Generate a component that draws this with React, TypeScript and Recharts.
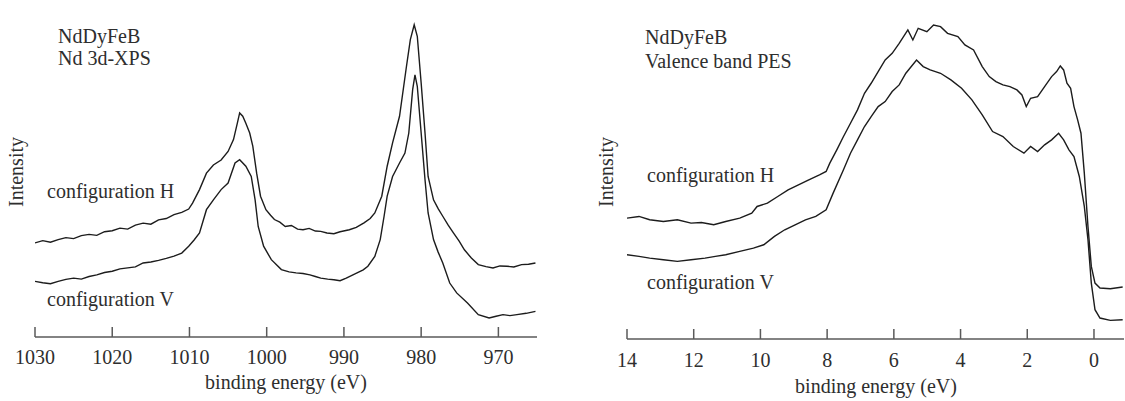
import { LineChart, Line, XAxis, YAxis } from "recharts";

// ---------------------------------------------------------------------------
// Nd 3d-XPS (left panel) – binding energy (eV) and intensity (arb. units)
// ---------------------------------------------------------------------------
const xpsEnergyH = [
  1030, 1029, 1028, 1027, 1026, 1025, 1024, 1023, 1022, 1021, 1020, 1019, 1018, 1017,
  1016, 1015, 1014, 1013, 1012, 1011, 1010.1, 1009.6, 1008.7, 1007.8, 1006.9, 1005.9,
  1005.0, 1004.3, 1003.8, 1003.5, 1003.1, 1002.7, 1002.2, 1001.8, 1001.3, 1000.8,
  1000.1, 999.5, 999.0, 998.3, 997.6, 996.8, 996.0, 995.3, 994.5, 993.7, 993.0, 992.2,
  991.3, 990.5, 989.3, 988.4, 987.4, 986.6, 986.0, 985.1, 984.4, 983.7, 982.8, 981.9,
  981.4, 980.9, 980.5, 980.0, 979.5, 979.1, 978.4, 977.8, 977.2, 976.5, 975.8, 975.1,
  974.4, 973.5, 972.6, 971.6, 970.7, 969.8, 968.9, 968.0, 967.0, 966.1, 965.2,
];
const xpsIntensityH = [
  28.6, 29.3, 28.8, 29.6, 30.2, 29.9, 30.8, 31.2, 30.9, 32.0, 32.3, 33.1, 32.8, 34.0,
  34.6, 34.3, 35.6, 36.0, 37.2, 37.9, 38.9, 40.7, 44.8, 49.8, 52.3, 53.8,
  56.4, 60.0, 65.0, 68.1, 67.1, 65.0, 62.0, 58.0, 49.8, 42.8,
  38.7, 37.0, 35.7, 34.9, 33.6, 33.9, 32.8, 32.6, 33.0, 32.2, 32.1, 31.6,
  31.4, 32.0, 32.6, 33.3, 34.7, 36.0, 37.7, 42.8, 51.9, 59.0, 67.1, 82.3,
  90.4, 94.9, 91.4, 77.2, 62.0, 48.8, 41.7, 39.0, 36.7, 34.0, 31.6, 29.2,
  26.5, 24.0, 22.0, 21.4, 21.0, 21.6, 21.5, 21.3, 22.0, 22.1, 22.5,
];

const xpsEnergyV = [
  1030, 1029, 1028, 1027, 1026, 1025, 1024, 1023, 1022, 1021, 1020, 1019, 1018, 1017,
  1016, 1015, 1014, 1013, 1012, 1011, 1010.1, 1009.4, 1008.7, 1007.8, 1006.9, 1005.9,
  1005.0, 1004.1, 1003.5, 1002.7, 1002.0, 1001.5, 1001.1, 1000.4, 999.4, 998.1, 997.1,
  996.2, 995.3, 994.4, 993.7, 993.0, 992.1, 991.3, 990.5, 989.7, 988.3, 987.5, 986.9,
  986.0, 985.3, 984.8, 984.4, 983.7, 982.8, 982.1, 981.6, 981.1, 980.8, 980.5, 980.0,
  979.5, 979.1, 978.4, 977.8, 977.2, 976.3, 975.4, 974.0, 972.6, 971.2, 970.3, 969.4,
  968.5, 967.6, 966.4, 965.2,
];
const xpsIntensityV = [
  16.9, 16.5, 16.2, 16.9, 17.5, 17.9, 17.6, 18.4, 18.9, 19.6, 20.0, 20.7, 21.0, 21.3,
  22.5, 22.8, 23.3, 23.9, 24.6, 25.5, 27.6, 29.5, 31.6, 38.7, 41.7, 44.8,
  46.8, 52.9, 53.9, 51.9, 48.8, 41.7, 33.6, 27.6, 23.5, 20.5, 19.8,
  19.5, 19.3, 18.9, 18.4, 17.9, 17.6, 17.4, 17.1, 17.9, 19.5, 20.4, 21.5,
  24.5, 29.6, 36.7, 42.8, 48.8, 52.9, 55.9, 62.0, 75.2, 79.7, 76.2, 62.0,
  47.8, 37.7, 29.6, 25.8, 22.5, 16.4, 13.4, 10.3, 6.8, 5.8, 6.3, 6.8,
  6.5, 6.8, 7.2, 7.8,
];

// ---------------------------------------------------------------------------
// Valence band PES (right panel)
// ---------------------------------------------------------------------------
const pesEnergyH = [
  14.0, 13.64, 13.32, 12.91, 12.49, 12.08, 11.77, 11.4, 11.04, 10.62, 10.26, 10.1, 9.79,
  9.48, 9.17, 8.86, 8.55, 8.23, 8.03, 7.92, 7.71, 7.51, 7.3, 7.09, 6.88, 6.68, 6.47,
  6.26, 6.05, 5.84, 5.58, 5.43, 5.27, 5.01, 4.81, 4.6, 4.39, 4.08, 3.87, 3.61, 3.35,
  3.14, 2.94, 2.73, 2.52, 2.31, 2.16, 2.03, 1.9, 1.69, 1.48, 1.27, 1.12, 1.01, 0.91,
  0.81, 0.7, 0.6, 0.49, 0.39, 0.29, 0.18, 0.08, -0.03, -0.18, -0.49, -0.86,
];
const pesIntensityH = [
  36.3, 36.8, 35.8, 35.3, 35.8, 34.8, 35.0, 34.3, 35.3, 36.3, 37.8, 39.8, 40.8,
  42.8, 44.8, 46.3, 47.8, 49.3, 50.3, 52.8, 56.8, 60.8, 64.8, 68.8, 73.8, 76.8, 80.3,
  83.8, 85.8, 88.8, 92.8, 89.8, 93.3, 92.3, 94.3, 93.8, 91.8, 90.8, 88.3, 86.8, 81.8,
  78.8, 77.3, 76.3, 75.8, 74.8, 73.3, 69.8, 72.3, 72.8, 75.8, 78.8, 80.3, 82.0, 80.8,
  76.8, 75.3, 69.8, 65.8, 61.8, 49.8, 33.8, 21.8, 16.8, 15.3, 15.1, 15.6,
];

const pesEnergyV = [
  14.0, 13.64, 13.32, 12.91, 12.49, 12.08, 11.66, 11.35, 11.04, 10.62, 10.21, 9.9, 9.58,
  9.27, 8.96, 8.65, 8.34, 8.03, 7.82, 7.51, 7.3, 7.09, 6.88, 6.68, 6.47, 6.26, 6.05,
  5.84, 5.64, 5.32, 5.12, 4.91, 4.6, 4.29, 3.97, 3.66, 3.35, 3.04, 2.73, 2.42, 2.1,
  1.9, 1.69, 1.48, 1.27, 1.06, 0.91, 0.75, 0.6, 0.44, 0.29, 0.18, 0.08, -0.03, -0.18,
  -0.49, -0.86,
];
const pesIntensityV = [
  25.3, 24.8, 24.3, 23.8, 23.3, 23.8, 24.3, 24.8, 25.3, 26.3, 27.3, 28.3, 30.8,
  32.8, 34.3, 35.8, 36.8, 38.8, 43.8, 50.8, 55.8, 59.8, 63.8, 66.8, 69.8, 71.3, 74.3,
  76.3, 79.8, 83.8, 81.8, 80.8, 79.8, 77.8, 75.3, 71.8, 67.3, 62.3, 60.8, 57.8, 55.8,
  57.8, 56.3, 58.3, 59.8, 61.8, 59.8, 56.8, 54.8, 48.8, 39.8, 29.8, 16.8, 8.8, 6.3,
  5.6, 5.8,
];

const xpsTicks = [1030, 1020, 1010, 1000, 990, 980, 970];
const pesTicks = [14, 12, 10, 8, 6, 4, 2, 0];

const FONT = "Liberation Serif, Times New Roman, serif";
const INK = "#2e2e2e";
const FRAME = "#5a5a5a";
const TRACE = "#1c1c1c";

const toRows = (e: number[], v: number[]) => e.map((x, i) => ({ e: x, v: v[i] }));

function BottomTick(props: any) {
  const { x, y, payload, labelDy } = props;
  return (
    <g>
      <line x1={x} x2={x} y1={y} y2={y - 10} stroke={FRAME} strokeWidth={1.5} />
      <text x={x} y={y + labelDy} textAnchor="middle" fontFamily={FONT} fontSize={20} fill={INK}>
        {payload.value}
      </text>
    </g>
  );
}

function TopTick(props: any) {
  const { x, y } = props;
  return <line x1={x} x2={x} y1={y} y2={y + 10} stroke={FRAME} strokeWidth={1.5} />;
}

type PanelProps = {
  left: number;
  width: number;
  margin: { top: number; left: number; right: number; bottom: number };
  axisHeight: number;
  domain: [number, number];
  ticks: number[];
  labelDy: number;
  upper: { e: number; v: number }[];
  lower: { e: number; v: number }[];
};

function Panel({ left, width, margin, axisHeight, domain, ticks, labelDy, upper, lower }: PanelProps) {
  const frame = { stroke: FRAME, strokeWidth: 1.5 };
  return (
    <div style={{ position: "absolute", left, top: 0 }}>
      <LineChart width={width} height={401} margin={margin}>
        <XAxis
          xAxisId="bottom"
          dataKey="e"
          type="number"
          domain={domain}
          reversed
          allowDataOverflow
          ticks={ticks}
          interval={0}
          height={axisHeight}
          tickSize={0}
          tickMargin={0}
          tickLine={false}
          axisLine={frame}
          tick={(p: any) => <BottomTick {...p} labelDy={labelDy} />}
        />
        <XAxis
          xAxisId="top"
          orientation="top"
          dataKey="e"
          type="number"
          domain={domain}
          reversed
          allowDataOverflow
          ticks={ticks}
          interval={0}
          height={0}
          tickSize={0}
          tickMargin={0}
          tickLine={false}
          axisLine={frame}
          tick={(p: any) => <TopTick {...p} />}
        />
        <YAxis type="number" domain={[0, 100]} width={0} tick={false} tickLine={false} axisLine={frame} />
        <YAxis
          yAxisId="right"
          orientation="right"
          type="number"
          domain={[0, 100]}
          width={0}
          tick={false}
          tickLine={false}
          axisLine={frame}
        />
        <Line
          xAxisId="bottom"
          data={upper}
          dataKey="v"
          type="linear"
          stroke={TRACE}
          strokeWidth={1.4}
          dot={false}
          isAnimationActive={false}
        />
        <Line
          xAxisId="bottom"
          data={lower}
          dataKey="v"
          type="linear"
          stroke={TRACE}
          strokeWidth={1.4}
          dot={false}
          isAnimationActive={false}
        />
      </LineChart>
    </div>
  );
}

export default function App() {
  const t = { fontFamily: FONT, fill: INK };
  return (
    <div style={{ position: "absolute", left: 0, top: 0, width: 1125, height: 401, background: "#fff", overflow: "hidden" }}>
      <Panel
        left={0}
        width={562}
        margin={{ top: 8, left: 35, right: 25, bottom: 0 }}
        axisHeight={64}
        domain={[965, 1030]}
        ticks={xpsTicks}
        labelDy={27}
        upper={toRows(xpsEnergyH, xpsIntensityH)}
        lower={toRows(xpsEnergyV, xpsIntensityV)}
      />
      <Panel
        left={565}
        width={560}
        margin={{ top: 6, left: 62, right: 1, bottom: 0 }}
        axisHeight={62}
        domain={[-0.9, 14]}
        ticks={pesTicks}
        labelDy={28}
        upper={toRows(pesEnergyH, pesIntensityH)}
        lower={toRows(pesEnergyV, pesIntensityV)}
      />
      {/* annotations */}
      <svg width={1125} height={401} style={{ position: "absolute", left: 0, top: 0, pointerEvents: "none" }}>
        <text x={58} y={43} fontSize={20} {...t}>NdDyFeB</text>
        <text x={58} y={65} fontSize={20} {...t}>Nd 3d-XPS</text>
        <text x={47} y={198} fontSize={20} {...t}>configuration H</text>
        <text x={47} y={306} fontSize={20} {...t}>configuration V</text>
        <text x={286} y={389} fontSize={20} textAnchor="middle" {...t}>binding energy (eV)</text>
        <text x={0} y={0} fontSize={20} textAnchor="middle" transform="translate(23,172) rotate(-90)" {...t}>Intensity</text>

        <text x={645} y={44} fontSize={20} {...t}>NdDyFeB</text>
        <text x={645} y={68} fontSize={20} {...t}>Valence band PES</text>
        <text x={647} y={182} fontSize={20} {...t}>configuration H</text>
        <text x={647} y={289} fontSize={20} {...t}>configuration V</text>
        <text x={876} y={393} fontSize={20} textAnchor="middle" {...t}>binding energy (eV)</text>
        <text x={0} y={0} fontSize={20} textAnchor="middle" transform="translate(613,172) rotate(-90)" {...t}>Intensity</text>
      </svg>
    </div>
  );
}
